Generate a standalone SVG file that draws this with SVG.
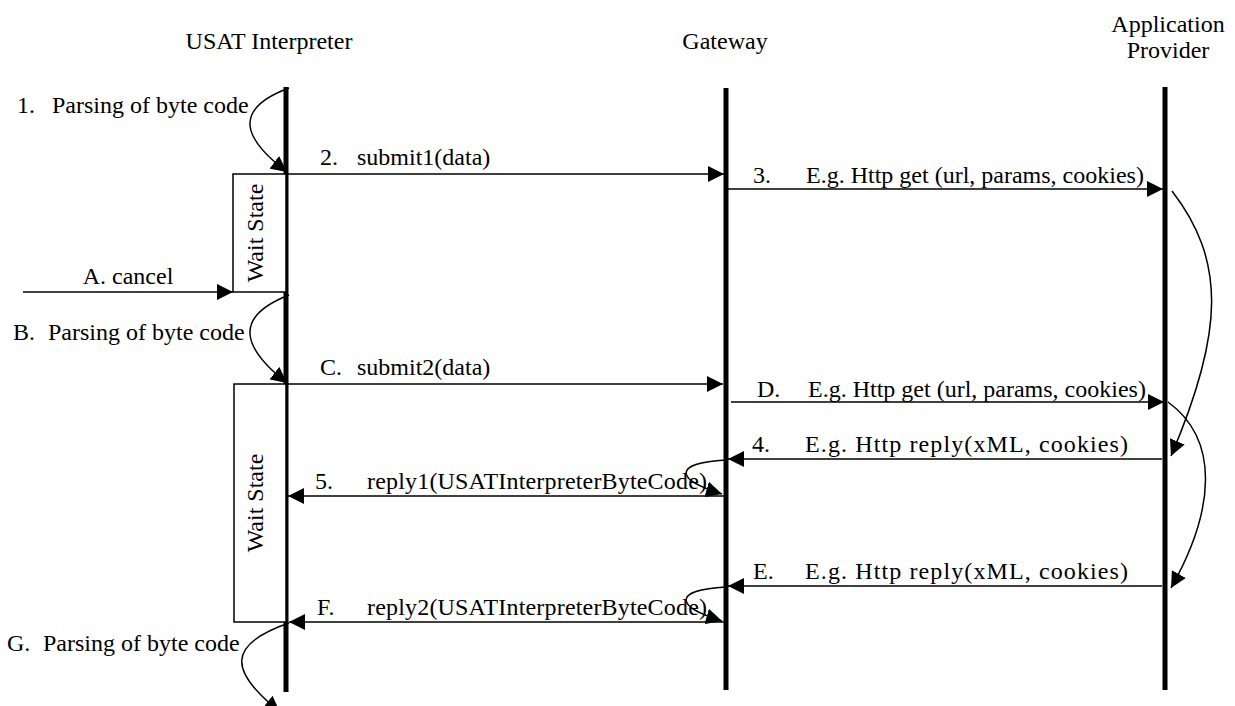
<svg xmlns="http://www.w3.org/2000/svg" width="1235" height="706" viewBox="0 0 1235 706">
<style>
text{font-family:"Liberation Serif","Times New Roman",serif;font-size:24px;fill:#000}
.life{stroke:#000;stroke-width:5;fill:none}
.msg{stroke:#000;stroke-width:1.5;fill:none}
.box{stroke:#000;stroke-width:1.5;fill:#fff}
.c{text-anchor:middle}
</style>
<defs>
<marker id="ah" markerUnits="userSpaceOnUse" markerWidth="16" markerHeight="16" viewBox="0 0 15 15" refX="15" refY="7.5" orient="auto">
<path d="M0,0 L15,7.5 L0,15 z" fill="#000"/>
</marker>
</defs>
<rect width="1235" height="706" fill="#fff"/>
<g id="usat">
<text class="c" x="269" y="49">USAT Interpreter</text>
<line class="life" x1="286" y1="87" x2="286" y2="692"/>
</g>
<g id="gateway">
<text class="c" x="725" y="49">Gateway</text>
<line class="life" x1="726" y1="88" x2="726" y2="690"/>
</g>
<g id="provider">
<text class="c" x="1168" y="32">Application</text>
<text class="c" x="1168" y="58">Provider</text>
<line class="life" x1="1165" y1="87" x2="1165" y2="690"/>
</g>
<g id="wait1">
<rect class="box" x="233" y="174" width="53" height="118"/>
<text class="c" transform="translate(263,233) rotate(-90)">Wait State</text>
</g>
<g id="wait2">
<rect class="box" x="234" y="384" width="52" height="238"/>
<text class="c" transform="translate(263,503) rotate(-90)">Wait State</text>
</g>
<g id="connectors">
<path class="msg" d="M289,88 C230,110 245,140 287,172" marker-end="url(#ah)"/>
<line class="msg" x1="288" y1="174" x2="724" y2="174" marker-end="url(#ah)"/>
<line class="msg" x1="728" y1="189" x2="1163" y2="189" marker-end="url(#ah)"/>
<line class="msg" x1="23" y1="292" x2="233" y2="292" marker-end="url(#ah)"/>
<path class="msg" d="M289,295 C230,318 245,350 287,383" marker-end="url(#ah)"/>
<line class="msg" x1="288" y1="384" x2="723" y2="384" marker-end="url(#ah)"/>
<line class="msg" x1="731" y1="402" x2="1164" y2="402" marker-end="url(#ah)"/>
<line class="msg" x1="1162" y1="459" x2="728" y2="459" marker-end="url(#ah)"/>
<path class="msg" d="M726,460 C672,463 675,480 722,494" marker-end="url(#ah)"/>
<line class="msg" x1="724" y1="496" x2="288" y2="496" marker-end="url(#ah)"/>
<line class="msg" x1="1162" y1="586" x2="728" y2="586" marker-end="url(#ah)"/>
<path class="msg" d="M726,587 C672,590 675,607 722,621" marker-end="url(#ah)"/>
<line class="msg" x1="724" y1="622" x2="289" y2="622" marker-end="url(#ah)"/>
<path class="msg" d="M289,623 C225,645 230,672 280,712" marker-end="url(#ah)"/>
<path class="msg" d="M1172,191 C1225,260 1225,330 1171,456" marker-end="url(#ah)"/>
<path class="msg" d="M1168,402 C1220,440 1215,510 1171,588" marker-end="url(#ah)"/>
</g>
<g id="labels">
<text x="17" y="113">1.</text><text x="52" y="113">Parsing of byte code</text>
<text x="320" y="165">2.</text><text x="357" y="165">submit1(data)</text>
<text x="753" y="183">3.</text><text x="806" y="183">E.g. Http get (url, params, cookies)</text>
<text class="c" x="128" y="284">A. cancel</text>
<text x="13" y="340">B.</text><text x="48" y="340">Parsing of byte code</text>
<text x="320" y="375">C.</text><text x="357" y="375">submit2(data)</text>
<text x="757" y="397">D.</text><text x="808" y="397">E.g. Http get (url, params, cookies)</text>
<text x="752" y="452">4.</text><text x="805" y="452" textLength="323" lengthAdjust="spacing">E.g. Http reply(xML, cookies)</text>
<text x="315" y="489">5.</text><text x="367" y="489" textLength="340" lengthAdjust="spacing">reply1(USATInterpreterByteCode)</text>
<text x="753" y="579">E.</text><text x="805" y="579" textLength="323" lengthAdjust="spacing">E.g. Http reply(xML, cookies)</text>
<text x="317" y="615">F.</text><text x="367" y="615" textLength="340" lengthAdjust="spacing">reply2(USATInterpreterByteCode)</text>
<text x="7" y="651">G.</text><text x="43" y="651">Parsing of byte code</text>
</g>
</svg>
